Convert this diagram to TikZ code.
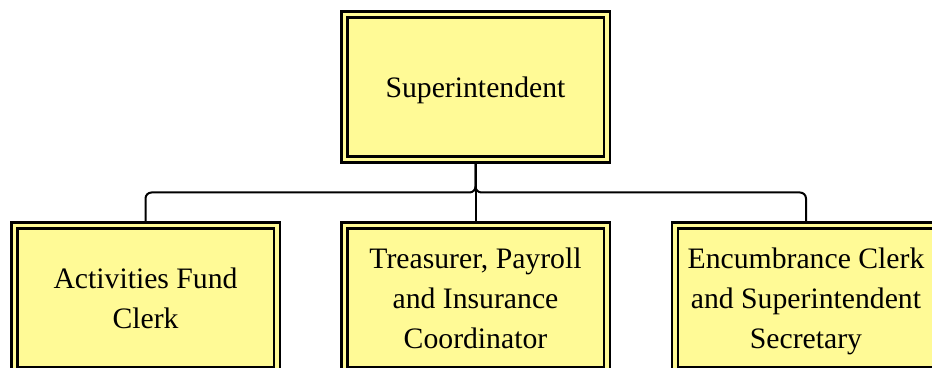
\documentclass[tikz,border=0pt]{standalone}
\usepackage{fontspec}
\setmainfont{Liberation Serif}
\usetikzlibrary{backgrounds,calc}
\definecolor{boxyellow}{RGB}{255,250,150}
\tikzset{
  post/.style={draw=black, fill=boxyellow, line width=1.25pt, double=boxyellow,
    double distance=1.75pt, minimum width=131.25pt, minimum height=72.5pt,
    inner sep=0pt, text depth=0pt, align=center,
    font=\fontsize{14.85}{20}\selectfont},
  link/.style={draw=black, line width=1pt, rounded corners=3pt}
}
\begin{document}
\begin{tikzpicture}[x=0.5pt, y=-0.5pt]
  \useasboundingbox (0,0) rectangle (932,368);
  \clip (0,0) rectangle (932,368);
  % boxes
  \node[post] (super) at (475.5,87) {Superintendent};
  \node[post] (clerk) at (145.5,298) {Activities Fund\\Clerk};
  \node[post] (treas) at (475.5,298) {Treasurer, Payroll\\and Insurance\\Coordinator};
  \node[post] (encum) at (806,298) {Encumbrance Clerk\\and Superintendent\\Secretary};
  % connectors
  \begin{scope}[on background layer]
    \coordinate (bus) at ($(super.south)!0.5!(treas.north)$);
    \draw[link] (super.south) -- (bus) -| (clerk.north);
    \draw[link] (super.south) -- (bus) -| (encum.north);
    \draw[link] (super.south) -- (treas.north);
  \end{scope}
\end{tikzpicture}
\end{document}
